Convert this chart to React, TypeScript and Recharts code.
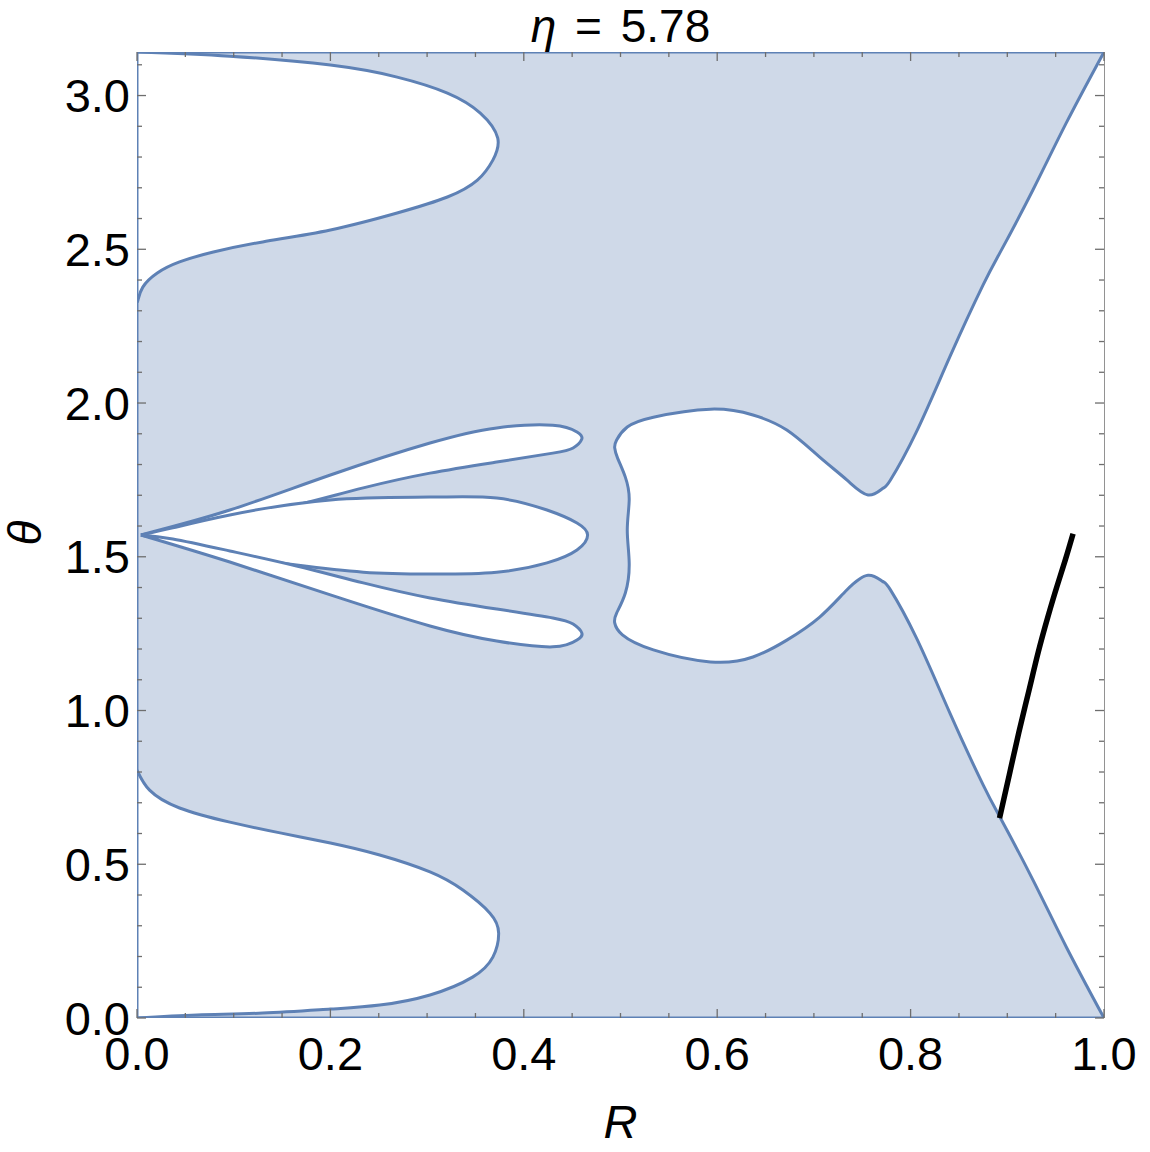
import { ScatterChart, Scatter, XAxis, YAxis } from "recharts";

// region plot of the allowed (R, theta) domain at eta = 5.78
const PI = 3.14159;
const BLUE = "#5e81b5";
const SHADE = "#cfd9e8";
const GRAY = "#6e6e6e";
const FONT = "'Liberation Sans', Arial, sans-serif";
const PLOT = { left: 137, top: 52, right: 1104, bottom: 1018 };

const title = "5.78";

const xMajorTicks = [0, 0.2, 0.4, 0.6, 0.8, 1.0];
const xTickLabels = ["0.0", "0.2", "0.4", "0.6", "0.8", "1.0"];
const xMinorTicks = [0.05, 0.1, 0.15, 0.25, 0.3, 0.35, 0.45, 0.5, 0.55, 0.65, 0.7, 0.75, 0.85, 0.9, 0.95];
const yMajorTicks = [0, 0.5, 1.0, 1.5, 2.0, 2.5, 3.0];
const yTickLabels = ["0.0", "0.5", "1.0", "1.5", "2.0", "2.5", "3.0"];
const yMinorTicks = [0.1, 0.2, 0.3, 0.4, 0.6, 0.7, 0.8, 0.9, 1.1, 1.2, 1.3, 1.4, 1.6, 1.7, 1.8, 1.9, 2.1, 2.2, 2.3, 2.4, 2.6, 2.7, 2.8, 2.9, 3.1];

// [R, theta]
const plotBox = [[0, 0], [1, 0], [1, PI], [0, PI]];
const frameEdges = [[1, 0], [0, 0], [0, PI], [1, PI]];

const topHole = [
  [0, PI], [0.096, 3.128], [0.2, 3.099], [0.269, 3.06], [0.321, 3.008], [0.355, 2.943],
  [0.373, 2.862], [0.368, 2.79], [0.352, 2.725], [0.321, 2.67], [0.269, 2.618], [0.2, 2.563],
  [0.13, 2.524], [0.079, 2.491], [0.044, 2.459], [0.021, 2.423], [0.006, 2.377], [0.001, 2.335],
  [0, 2.33],
];

const bottomHole = [
  [0, 0.806], [0.013, 0.741], [0.044, 0.683], [0.096, 0.637], [0.148, 0.602], [0.2, 0.569],
  [0.251, 0.53], [0.303, 0.475], [0.337, 0.416], [0.365, 0.341], [0.374, 0.276], [0.368, 0.198],
  [0.347, 0.133], [0.303, 0.075], [0.251, 0.042], [0.2, 0.029], [0.13, 0.016], [0.062, 0.01],
  [0, 0],
];

const upperLobe = [
  [0.004, 1.571], [0.096, 1.652], [0.2, 1.766], [0.303, 1.87], [0.372, 1.919], [0.43, 1.928],
  [0.455, 1.906], [0.46, 1.883], [0.451, 1.854], [0.43, 1.837], [0.372, 1.808], [0.303, 1.772],
  [0.234, 1.724], [0.165, 1.668], [0.096, 1.62], [0.037, 1.581],
];

const middleLobe = [
  [0.004, 1.571], [0.037, 1.594], [0.096, 1.636], [0.2, 1.685], [0.303, 1.694], [0.372, 1.691],
  [0.424, 1.652], [0.455, 1.61], [0.466, 1.571], [0.455, 1.522], [0.424, 1.48], [0.372, 1.45],
  [0.303, 1.444], [0.234, 1.45], [0.165, 1.473], [0.096, 1.506], [0.037, 1.548],
];

const lowerLobe = [
  [0.004, 1.571], [0.096, 1.483], [0.2, 1.376], [0.303, 1.275], [0.372, 1.226], [0.43, 1.207],
  [0.455, 1.229], [0.46, 1.252], [0.451, 1.281], [0.43, 1.301], [0.372, 1.33], [0.303, 1.366],
  [0.234, 1.415], [0.165, 1.47], [0.096, 1.519], [0.037, 1.558],
];

const upperRight = [
  [1, PI], [0.961, 2.911], [0.927, 2.696], [0.894, 2.498], [0.875, 2.384], [0.841, 2.153],
  [0.806, 1.906], [0.779, 1.749], [0.771, 1.722],
];

const centralHole = [
  [0.756, 1.701], [0.734, 1.75], [0.706, 1.824], [0.672, 1.912], [0.637, 1.961], [0.593, 1.98],
  [0.534, 1.954], [0.507, 1.922], [0.496, 1.88], [0.494, 1.854], [0.497, 1.821], [0.505, 1.759],
  [0.509, 1.685], [0.507, 1.587], [0.509, 1.48], [0.505, 1.382], [0.496, 1.317], [0.494, 1.285],
  [0.502, 1.246], [0.534, 1.197], [0.593, 1.158], [0.637, 1.174], [0.672, 1.229], [0.706, 1.304],
  [0.734, 1.392], [0.756, 1.44],
];

const lowerRight = [
  [0.771, 1.42], [0.779, 1.393], [0.806, 1.236], [0.841, 0.989], [0.875, 0.758], [0.894, 0.644],
  [0.927, 0.446], [0.961, 0.231], [1, 0],
];

const blackCurve = [
  [0.892, 0.65], [0.902, 0.79], [0.912, 0.93], [0.922, 1.06], [0.932, 1.19], [0.942, 1.305],
  [0.951, 1.4], [0.96, 1.49], [0.968, 1.575],
];

const toPts = (a: number[][]) => a.map(([r, t]) => ({ r, t }));
const closed = (a: number[][]) => toPts([...a, a[0]]);
const rightRegion = [...upperRight, ...centralHole, ...lowerRight];

const noDot = () => <g />;

const near = (list: number[], v: number) => list.findIndex((m) => Math.abs(m - v) < 1e-6);

const BottomTick = (props: any) => {
  const { x, payload } = props;
  const i = near(xMajorTicks, payload.value);
  const len = i >= 0 ? 9 : 5;
  return (
    <g>
      <line x1={x} x2={x} y1={PLOT.bottom} y2={PLOT.bottom - len} stroke={GRAY} strokeWidth={1.3} />
      {i >= 0 && (
        <text x={x} y={PLOT.bottom + 52} textAnchor="middle" fontSize={47} fontFamily={FONT} fill="#000">
          {xTickLabels[i]}
        </text>
      )}
    </g>
  );
};

const TopTick = (props: any) => {
  const { x, payload } = props;
  const len = near(xMajorTicks, payload.value) >= 0 ? 9 : 5;
  return <line x1={x} x2={x} y1={PLOT.top} y2={PLOT.top + len} stroke={GRAY} strokeWidth={1.3} />;
};

const LeftTick = (props: any) => {
  const { y, payload } = props;
  const i = near(yMajorTicks, payload.value);
  const len = i >= 0 ? 9 : 5;
  return (
    <g>
      <line x1={PLOT.left} x2={PLOT.left + len} y1={y} y2={y} stroke={GRAY} strokeWidth={1.3} />
      {i >= 0 && (
        <text x={PLOT.left - 7} y={y + 16.5} textAnchor="end" fontSize={47} fontFamily={FONT} fill="#000">
          {yTickLabels[i]}
        </text>
      )}
    </g>
  );
};

const RightTick = (props: any) => {
  const { y, payload } = props;
  const len = near(yMajorTicks, payload.value) >= 0 ? 9 : 5;
  return <line x1={PLOT.right} x2={PLOT.right - len} y1={y} y2={y} stroke={GRAY} strokeWidth={1.3} />;
};

const TitleLabel = () => (
  <text x={(PLOT.left + PLOT.right) / 2} y={42} textAnchor="middle" fontSize={46} wordSpacing={6} fontFamily={FONT} fill="#000">
    <tspan fontStyle="italic">η</tspan> = {title}
  </text>
);

const XLabel = () => (
  <text x={(PLOT.left + PLOT.right) / 2} y={1138} textAnchor="middle" fontSize={47} fontFamily={FONT} fontStyle="italic" fill="#000">
    R
  </text>
);

const YLabel = () => (
  <text x={41} y={533} transform="rotate(-90 41 533)" textAnchor="middle" fontSize={46} fontFamily={FONT} fontStyle="italic" fill="#000">
    θ
  </text>
);

const allX = [...xMajorTicks, ...xMinorTicks].sort((a, b) => a - b);
const allY = [...yMajorTicks, ...yMinorTicks].sort((a, b) => a - b);

const outline = { fill: "#ffffff", stroke: BLUE, strokeWidth: 3, strokeLinejoin: "round" };

export default function App() {
  return (
    <div style={{ position: "absolute", left: 0, top: 0, background: "#fff" }}>
      <ScatterChart width={1150} height={1152} margin={{ top: 32, right: 26, bottom: 34, left: 37 }}>
        <Scatter data={toPts(plotBox)} shape={noDot} line={{ fill: SHADE, stroke: "none" }} isAnimationActive={false} />
        <Scatter data={toPts(topHole)} shape={noDot} line={outline} lineJointType="natural" isAnimationActive={false} />
        <Scatter data={toPts(bottomHole)} shape={noDot} line={outline} lineJointType="natural" isAnimationActive={false} />
        <Scatter data={closed(upperLobe)} shape={noDot} line={outline} lineJointType="natural" isAnimationActive={false} />
        <Scatter data={closed(middleLobe)} shape={noDot} line={outline} lineJointType="natural" isAnimationActive={false} />
        <Scatter data={closed(lowerLobe)} shape={noDot} line={outline} lineJointType="natural" isAnimationActive={false} />
        <Scatter data={toPts(rightRegion)} shape={noDot} line={{ fill: "#ffffff", stroke: BLUE, strokeWidth: 3, strokeLinejoin: "round" }} lineJointType="natural" isAnimationActive={false} />
        <Scatter data={toPts(blackCurve)} shape={noDot} line={{ fill: "none", stroke: "#000", strokeWidth: 5.5 }} lineJointType="natural" isAnimationActive={false} />
        <Scatter xAxisId="top" yAxisId="right" data={toPts(frameEdges)} shape={noDot} line={{ fill: "none", stroke: BLUE, strokeWidth: 3 }} isAnimationActive={false} />

        <XAxis type="number" dataKey="r" domain={[0, 1]} allowDataOverflow ticks={allX} interval={0} tick={BottomTick} tickLine={false} tickSize={0} axisLine={false} height={100} label={{ content: XLabel }} />
        <XAxis xAxisId="top" orientation="top" type="number" dataKey="r" domain={[0, 1]} allowDataOverflow ticks={allX} interval={0} tick={TopTick} tickLine={false} tickSize={0} axisLine={false} height={20} label={{ content: TitleLabel }} />
        <YAxis type="number" dataKey="t" domain={[0, PI]} allowDataOverflow ticks={allY} interval={0} tick={LeftTick} tickLine={false} tickSize={0} axisLine={false} width={100} label={{ content: YLabel }} />
        <YAxis yAxisId="right" orientation="right" type="number" dataKey="t" domain={[0, PI]} allowDataOverflow ticks={allY} interval={0} tick={RightTick} tickLine={false} tickSize={0} axisLine={{ stroke: GRAY, strokeWidth: 1.5 }} width={20} />
      </ScatterChart>
    </div>
  );
}
